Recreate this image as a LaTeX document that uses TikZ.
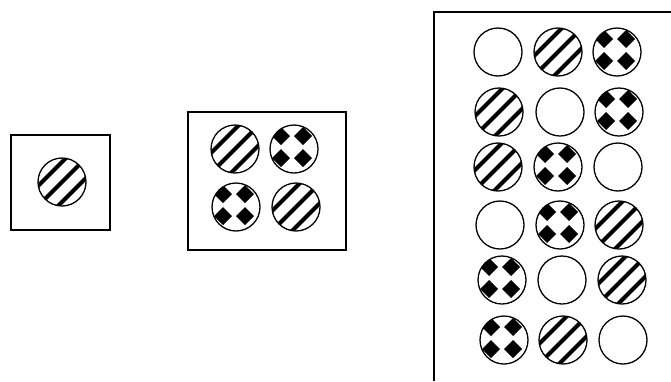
\documentclass[tikz,border=0pt]{standalone}
\usepackage{xcolor}
\usepackage{tikz}
\definecolor{ink}{HTML}{000000}

\begin{document}
\begin{tikzpicture}[x=1pt, y=-1pt,
          frame/.style={draw=ink, line width=1.3pt},
          ball/.style={circle, draw=ink, line width=1.3pt, minimum size=48pt,
                       inner sep=0pt, fill=white},
          blankball/.style={ball},
          stripeball/.style={ball, path picture={
              \foreach \d in {-30,-20,...,30}
                \draw[ink, line width=4.2pt]
                  ([shift={(\d,\d)}]path picture bounding box.center)
                  ++(-40,40) -- ++(80,-80);}},
          dotball/.style={ball, path picture={
              \foreach \i in {-33,-11,11,33}
                \foreach \j in {-33,-11,11,33}
                  \fill[ink] ([shift={(\i-2,\j-2)}]path picture bounding box.center)
                    ++(0,-9) -- ++(9,9) -- ++(-9,9) -- ++(-9,-9) -- cycle;}}]
        \useasboundingbox (0,0) rectangle (671,381);
        % single card
        \draw[frame] (11,135) rectangle (110,230);
        \node[stripeball] (s1) at (62,182) {};
        % four card
        \draw[frame] (188,112) rectangle (346,250);
        \node[stripeball] (q1) at (235,149) {};
        \node[dotball] (q2) at (294,149) {};
        \node[dotball] (q3) at (236,207) {};
        \node[stripeball] (q4) at (296,207) {};
        % answer panel
        \draw[frame] (671,12) -- (434,12) -- (434,381);
        \foreach \x/\y/\k/\n in {498/52/blankball/r11, 558/52/stripeball/r12, 617/52/dotball/r13,
                                 499/112/stripeball/r21, 560/112/blankball/r22, 619/112/dotball/r23,
                                 498/167/stripeball/r31, 558/167/dotball/r32, 618/167/blankball/r33,
                                 500/225/blankball/r41, 560/225/dotball/r42, 619/225/stripeball/r43,
                                 502/280/dotball/r51, 562/280/blankball/r52, 622/280/stripeball/r53,
                                 504/340/dotball/r61, 563/340/stripeball/r62, 623/340/blankball/r63}
          \node[\k] (\n) at (\x,\y) {};
      \end{tikzpicture}
\end{document}
